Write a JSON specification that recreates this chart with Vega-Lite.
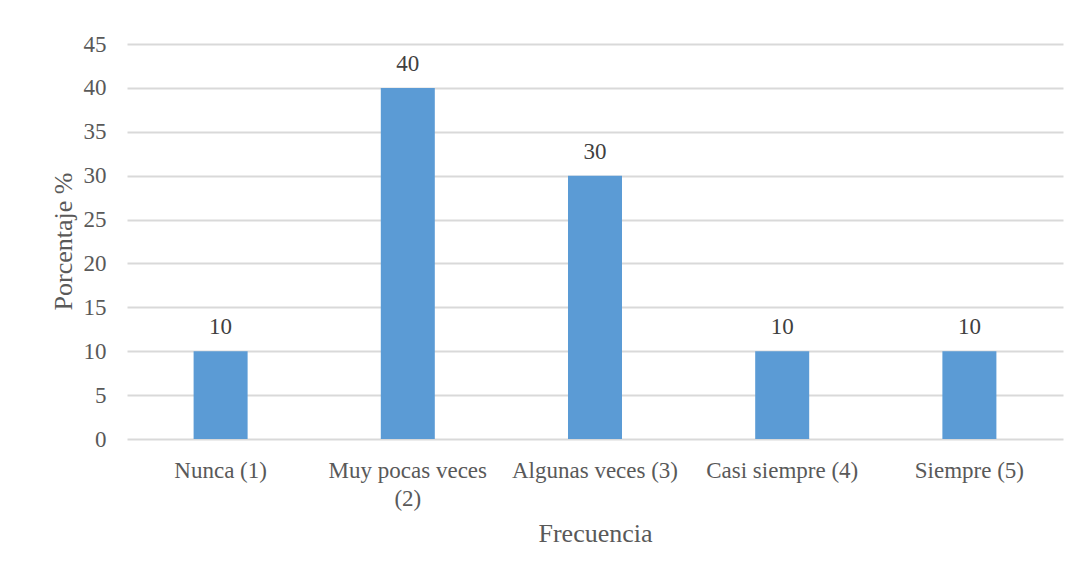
{
  "$schema": "https://vega.github.io/schema/vega-lite/v6.json",
  "width": 936,
  "height": 395,
  "autosize": {"type": "none"},
  "padding": {"left": 127, "top": 44, "right": 16, "bottom": 130},
  "background": "white",
  "data": {
    "values": [
      {"frecuencia": "Nunca (1)", "porcentaje": 10},
      {"frecuencia": "Muy pocas veces (2)", "porcentaje": 40},
      {"frecuencia": "Algunas veces (3)", "porcentaje": 30},
      {"frecuencia": "Casi siempre (4)", "porcentaje": 10},
      {"frecuencia": "Siempre (5)", "porcentaje": 10}
    ]
  },
  "encoding": {
    "x": {
      "field": "frecuencia",
      "type": "nominal",
      "sort": null,
      "scale": {"paddingInner": 0.7115, "paddingOuter": 0.3558},
      "axis": {
        "title": "Frecuencia",
        "titleFont": "Liberation Serif, serif",
        "titleFontSize": 26,
        "titleFontWeight": "normal",
        "titleColor": "#595959",
        "titleBaseline": "alphabetic",
        "titleY": 102,
        "labelAngle": 0,
        "labelFont": "Liberation Serif, serif",
        "labelFontSize": 23,
        "labelColor": "#595959",
        "labelBaseline": "top",
        "labelPadding": 20,
        "labelLineHeight": 28,
        "labelExpr": "datum.label == 'Muy pocas veces (2)' ? ['Muy pocas veces', '(2)'] : datum.label",
        "ticks": false,
        "tickSize": 0,
        "domain": false,
        "grid": false
      }
    },
    "y": {
      "field": "porcentaje",
      "type": "quantitative",
      "scale": {"domain": [0, 45], "nice": false},
      "axis": {
        "title": "Porcentaje %",
        "titleFont": "Liberation Serif, serif",
        "titleFontSize": 26,
        "titleFontWeight": "normal",
        "titleColor": "#595959",
        "titleAngle": -90,
        "titleAlign": "center",
        "titleBaseline": "middle",
        "titleX": -64,
        "titleY": 197,
        "values": [0, 5, 10, 15, 20, 25, 30, 35, 40, 45],
        "labelFont": "Liberation Serif, serif",
        "labelFontSize": 23,
        "labelColor": "#595959",
        "labelPadding": 21,
        "ticks": false,
        "tickSize": 0,
        "domain": false,
        "grid": true,
        "gridColor": "#d9d9d9",
        "gridWidth": 2
      }
    }
  },
  "layer": [
    {
      "mark": {"type": "bar", "color": "#5b9bd5"}
    },
    {
      "mark": {
        "type": "text",
        "baseline": "alphabetic",
        "dy": -17,
        "fontSize": 23,
        "color": "#404040",
        "font": "Liberation Serif, serif"
      },
      "encoding": {
        "text": {"field": "porcentaje", "type": "quantitative"}
      }
    }
  ],
  "config": {
    "font": "Liberation Serif, serif",
    "view": {"stroke": null}
  }
}
